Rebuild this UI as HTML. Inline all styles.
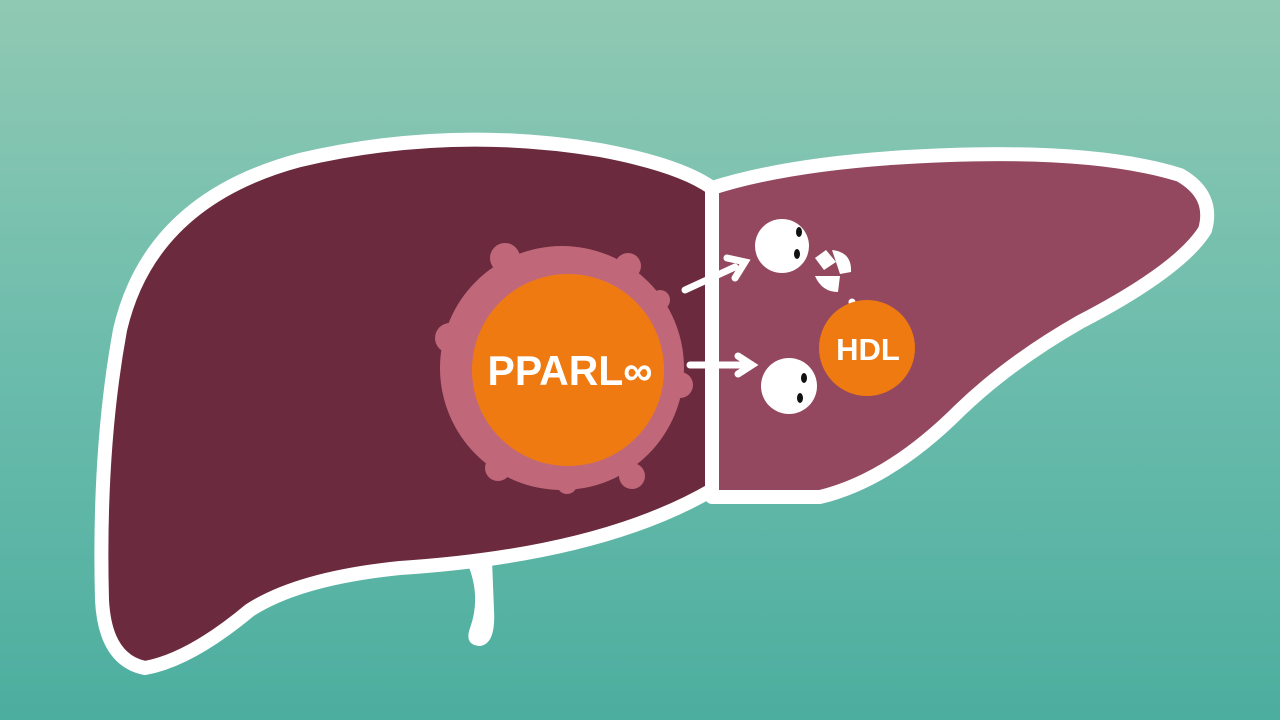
<!DOCTYPE html>
<html><head><meta charset="utf-8"><style>
html,body{margin:0;padding:0;width:1280px;height:720px;overflow:hidden}
svg{display:block}
</style></head><body>
<svg width="1280" height="720" viewBox="0 0 1280 720" xmlns="http://www.w3.org/2000/svg">
<defs>
<linearGradient id="bg" x1="0" y1="0" x2="0" y2="1">
<stop offset="0" stop-color="#90c9b3"/><stop offset="0.5" stop-color="#6cbcac"/><stop offset="1" stop-color="#4cae9f"/>
</linearGradient>
</defs>
<rect width="1280" height="720" fill="url(#bg)"/>
<!-- tail -->
<path d="M466 560 Q482 595 470 628 Q464 645 480 646 Q496 644 494 610 Q493 585 492 560 Z" fill="#fff"/>
<!-- left lobe -->
<path d="M145 668 Q105 660 102 600 Q98 450 120 330 Q150 200 300 160 Q450 125 600 150 Q680 165 712 188 L712 490 Q600 555 400 568 Q300 578 250 610 Q190 660 145 668 Z" fill="#6b2a3e" stroke="#fff" stroke-width="14" stroke-linejoin="round"/>
<!-- right lobe -->
<path d="M712 188 Q800 160 950 155 Q1100 150 1180 175 Q1215 195 1205 230 Q1180 270 1080 322 Q1010 362 960 410 Q890 480 820 497 L712 497 Z" fill="#93485f" stroke="#fff" stroke-width="14" stroke-linejoin="round"/>
<line x1="712" y1="190" x2="712" y2="497" stroke="#fff" stroke-width="12"/>
<!-- halo gear -->
<g fill="#c0687a">
<circle cx="562" cy="368" r="122"/>
<circle cx="505" cy="258" r="15"/><circle cx="628" cy="266" r="13"/><circle cx="450" cy="338" r="15"/>
<circle cx="680" cy="385" r="13"/><circle cx="632" cy="476" r="13"/><circle cx="498" cy="468" r="13"/><circle cx="567" cy="484" r="10"/>
<circle cx="660" cy="300" r="10"/>
</g>
<circle cx="568" cy="370" r="96" fill="#f07a12"/>
<text x="570" y="385" text-anchor="middle" font-family="Liberation Sans, sans-serif" font-weight="bold" font-size="42" fill="#fff" textLength="165" lengthAdjust="spacingAndGlyphs">PPARL∞</text>
<!-- arrows -->
<g stroke="#fff" stroke-width="7" stroke-linecap="round" fill="none">
<line x1="685" y1="290" x2="735" y2="267"/>
<polyline points="727,258 745,262 735,278"/>
<line x1="690" y1="365" x2="745" y2="365"/>
<polyline points="738,356 752,365 738,374"/>
<line x1="852" y1="302" x2="858" y2="318"/>
<polyline points="850,314 860,326 866,312"/>
</g>
<!-- balls -->
<circle cx="782" cy="246" r="27" fill="#fff"/>
<ellipse cx="799" cy="232" rx="3" ry="5" fill="#111"/><ellipse cx="797" cy="254" rx="3" ry="5" fill="#111"/>
<circle cx="789" cy="386" r="28" fill="#fff"/>
<ellipse cx="804" cy="378" rx="3" ry="5" fill="#111"/><ellipse cx="800" cy="398" rx="3" ry="5" fill="#111"/>
<path d="M815 258 L826 250 L836 262 L824 270 Z" fill="#fff"/>
<path d="M832 250 Q852 252 851 272 L840 274 Z" fill="#fff"/>
<path d="M815 276 L840 276 L838 292 Q822 292 815 276 Z" fill="#fff"/>
<!-- HDL -->
<circle cx="867" cy="348" r="48" fill="#ef7a12"/>
<text x="868" y="360" text-anchor="middle" font-family="Liberation Sans, sans-serif" font-weight="bold" font-size="31" fill="#fff">HDL</text>
</svg>
</body></html>
